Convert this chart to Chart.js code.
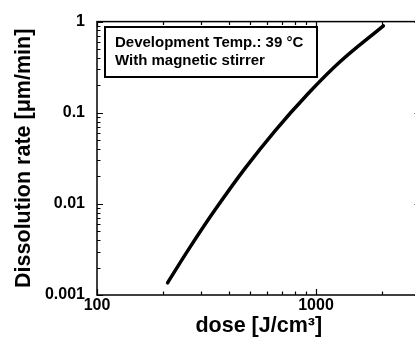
<!DOCTYPE html>
<html>
<head>
<meta charset="utf-8">
<script src="https://cdn.jsdelivr.net/npm/chart.js@4.4.1/dist/chart.umd.min.js"></script>
<style>
    body { margin: 0; background: #fff; overflow: hidden; }
    #wrap { width: 430px; height: 341px; }
</style>
</head>
<body>
<div id="wrap"><canvas id="rate-chart" width="430" height="341"></canvas></div>
<script>
// dissolution rate vs. exposure dose
const doses = [210, 266, 346, 474, 650, 891, 1287, 2030];
const rates = [0.00136, 0.00335, 0.0086, 0.0245, 0.0634, 0.149, 0.362, 0.898];

const doseLabels = [100, 1000];
const rateLabels = [0.001, 0.01, 0.1, 1];
const noteLines = ['Development Temp.: 39 \u00b0C', 'With magnetic stirrer'];

const FONT = '"Liberation Sans", Arial, sans-serif';

// closed frame with inward log ticks, plus the conditions box
const frameTicks = {
    id: 'frameTicks',
    afterDatasetsDraw(chart) {
        const ctx = chart.ctx;
        const a = chart.chartArea;
        const x = chart.scales.x;
        const y = chart.scales.y;
        ctx.save();
        ctx.strokeStyle = '#000';
        ctx.lineWidth = 1.5;
        ctx.strokeRect(a.left, a.top, a.right - a.left, a.bottom - a.top);

        ctx.lineWidth = 1.2;
        ctx.beginPath();
        for (let d = x.min; d < x.max; d *= 10) {
            for (let m = 1; m <= 9; m++) {
                const v = d * m;
                if (v > x.max) break;
                const px = Math.round(x.getPixelForValue(v)) + 0.5;
                const len = m === 1 ? 6 : 3.5;
                ctx.moveTo(px, a.bottom); ctx.lineTo(px, a.bottom - len);
                ctx.moveTo(px, a.top); ctx.lineTo(px, a.top + len);
            }
        }
        for (let d = y.min; d < y.max * 1.01; d *= 10) {
            for (let m = 1; m <= 9; m++) {
                const v = d * m;
                if (v > y.max * 1.01) break;
                const py = Math.round(y.getPixelForValue(v)) + 0.5;
                const len = m === 1 ? 6 : 3.5;
                ctx.moveTo(a.left, py); ctx.lineTo(a.left + len, py);
                ctx.moveTo(a.right, py); ctx.lineTo(a.right - len, py);
            }
        }
        ctx.stroke();

        // conditions box
        ctx.lineWidth = 2;
        ctx.strokeRect(105, 27, 212, 50);
        ctx.fillStyle = '#000';
        ctx.font = 'bold 15px ' + FONT;
        ctx.textBaseline = 'alphabetic';
        ctx.fillText(noteLines[0], 115, 47);
        ctx.fillText(noteLines[1], 115, 65);
        ctx.restore();
    }
};

new Chart(document.getElementById('rate-chart').getContext('2d'), {
    type: 'line',
    data: {
        datasets: [{
            data: doses.map((d, i) => ({x: d, y: rates[i]})),
            borderColor: '#000',
            borderWidth: 3.5,
            borderCapStyle: 'round',
            pointRadius: 0,
            tension: 0.4,
            fill: false
        }]
    },
    plugins: [frameTicks],
    options: {
        responsive: false,
        animation: false,
        layout: { padding: { top: 20, right: 9.5, left: 0, bottom: 0 } },
        plugins: {
            legend: { display: false },
            tooltip: { enabled: false }
        },
        scales: {
            x: {
                type: 'logarithmic',
                min: 100,
                max: 3000,
                grid: { display: false, drawTicks: false },
                border: { display: false },
                afterBuildTicks: s => { s.ticks = doseLabels.map(v => ({value: v})); },
                afterFit: s => { s.height = 46; },
                ticks: {
                    autoSkip: false,
                    maxRotation: 0,
                    padding: 1,
                    color: '#000',
                    font: { family: FONT, size: 16, weight: 'bold' },
                    callback: v => String(v)
                },
                title: {
                    display: true,
                    text: 'dose [J/cm\u00b3]',
                    color: '#000',
                    padding: { top: 0, bottom: 2 },
                    font: { family: FONT, size: 21.5, weight: 'bold' }
                }
            },
            y: {
                type: 'logarithmic',
                min: 0.001,
                max: 1,
                grid: { display: false, drawTicks: false },
                border: { display: false },
                afterBuildTicks: s => { s.ticks = rateLabels.map(v => ({value: v})); },
                afterFit: s => { s.width = 97; },
                ticks: {
                    autoSkip: false,
                    padding: 12,
                    color: '#000',
                    font: { family: FONT, size: 16, weight: 'bold' },
                    callback: v => String(v)
                },
                title: {
                    display: true,
                    text: 'Dissolution rate [\u03bcm/min]',
                    color: '#000',
                    padding: { top: 11, bottom: 0 },
                    font: { family: FONT, size: 21.5, weight: 'bold' }
                }
            }
        }
    }
});
</script>
</body>
</html>
